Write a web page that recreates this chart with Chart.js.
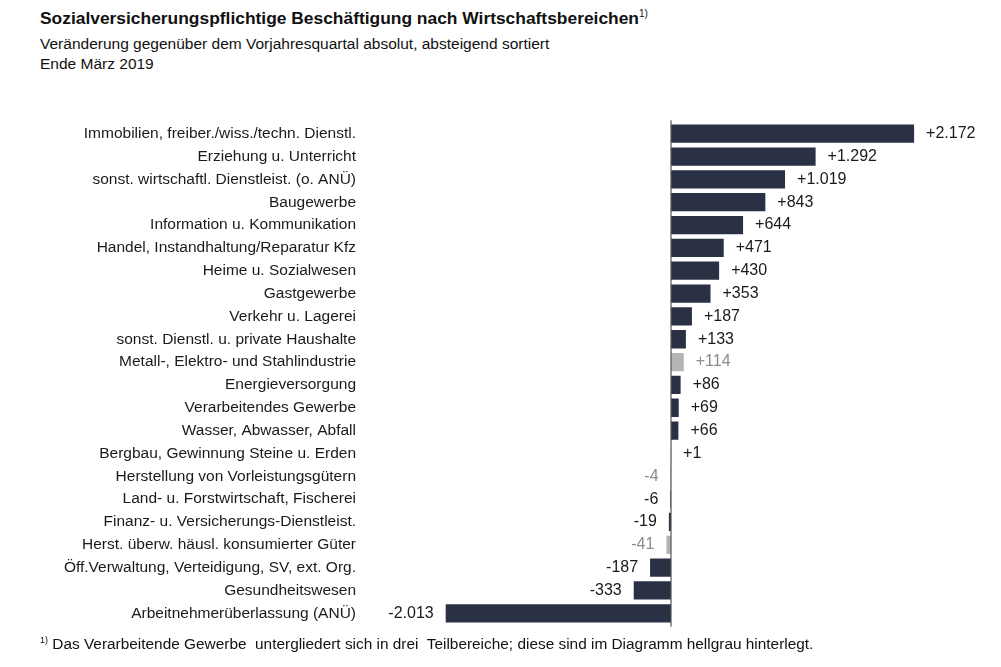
<!DOCTYPE html>
<html>
<head>
<meta charset="utf-8">
<script src="https://cdn.jsdelivr.net/npm/chart.js@4"></script>
<style>
  body { margin: 0; background: #fff; font-family: "Liberation Sans", Arial, sans-serif; color: #111; }
  #wrap { position: relative; width: 1001px; height: 667px; }
  .title { position: absolute; left: 40px; top: 8px; font-size: 17.4px; font-weight: bold; }
  .title sup { font-size: 10px; font-weight: normal; }
  .sub { position: absolute; left: 40px; font-size: 15.5px; }
  .foot { position: absolute; left: 40px; top: 635px; font-size: 15.4px; }
  .foot sup { font-size: 9px; }
  #box { position: absolute; left: 0; top: 89px; width: 1001px; height: 569px; }
</style>
</head>
<body>
<div id="wrap">
  <div class="title">Sozialversicherungspflichtige Beschäftigung nach Wirtschaftsbereichen<sup>1)</sup></div>
  <div class="sub" style="top:35px">Veränderung gegenüber dem Vorjahresquartal absolut, absteigend sortiert</div>
  <div class="sub" style="top:55px">Ende März 2019</div>
  <div id="box"><canvas id="myChart"></canvas></div>
  <div class="foot"><sup>1)</sup> Das Verarbeitende Gewerbe&nbsp; untergliedert sich in drei&nbsp; Teilbereiche; diese sind im Diagramm hellgrau hinterlegt.</div>
</div>
<script>
const categories = [
    'Immobilien, freiber./wiss./techn. Dienstl.',
    'Erziehung u. Unterricht',
    'sonst. wirtschaftl. Dienstleist. (o. ANÜ)',
    'Baugewerbe',
    'Information u. Kommunikation',
    'Handel, Instandhaltung/Reparatur Kfz',
    'Heime u. Sozialwesen',
    'Gastgewerbe',
    'Verkehr u. Lagerei',
    'sonst. Dienstl. u. private Haushalte',
    'Metall-, Elektro- und Stahlindustrie',
    'Energieversorgung',
    'Verarbeitendes Gewerbe',
    'Wasser, Abwasser, Abfall',
    'Bergbau, Gewinnung Steine u. Erden',
    'Herstellung von Vorleistungsgütern',
    'Land- u. Forstwirtschaft, Fischerei',
    'Finanz- u. Versicherungs-Dienstleist.',
    'Herst. überw. häusl. konsumierter Güter',
    'Öff.Verwaltung, Verteidigung, SV, ext. Org.',
    'Gesundheitswesen',
    'Arbeitnehmerüberlassung (ANÜ)'
];
const changes = [2172, 1292, 1019, 843, 644, 471, 430, 353, 187, 133, 114, 86, 69, 66, 1, -4, -6, -19, -41, -187, -333, -2013];
// sub-sectors of Verarbeitendes Gewerbe (light grey)
const subSector = [false, false, false, false, false, false, false, false, false, false, true, false, false, false, false, true, false, false, true, false, false, false];

const dark = '#2b3144';
const light = '#b5b5b5';

function fmt(v) {
    const s = Math.abs(v).toString().replace(/\B(?=(\d{3})+(?!\d))/g, '.');
    return (v > 0 ? '+' : '-') + s;
}

const zeroLine = {
    id: 'zeroLine',
    afterDatasetsDraw(chart) {
        const c = chart.ctx, x = chart.scales.x.getPixelForValue(0);
        c.save();
        c.strokeStyle = '#555';
        c.lineWidth = 1.2;
        c.beginPath();
        c.moveTo(x, chart.chartArea.top - 2);
        c.lineTo(x, chart.chartArea.bottom + 2);
        c.stroke();
        c.restore();
    }
};

const valueLabels = {
    id: 'valueLabels',
    afterDatasetsDraw(chart) {
        const c = chart.ctx;
        const meta = chart.getDatasetMeta(0);
        c.save();
        c.font = '16px "Liberation Sans", Arial, sans-serif';
        c.textBaseline = 'middle';
        meta.data.forEach((bar, i) => {
            const v = changes[i];
            c.fillStyle = subSector[i] ? '#8c8c8c' : '#1a1a1a';
            if (v >= 0) {
                c.textAlign = 'left';
                c.fillText(fmt(v), bar.x + 12, bar.y);
            } else {
                c.textAlign = 'right';
                c.fillText(fmt(v), bar.x - 12, bar.y);
            }
        });
        c.restore();
    }
};

const ctx = document.getElementById('myChart');
new Chart(ctx, {
    type: 'bar',
    data: {
        labels: categories,
        datasets: [{
            data: changes,
            backgroundColor: subSector.map(g => g ? light : dark),
            barPercentage: 0.8,
            categoryPercentage: 1.0
        }]
    },
    options: {
        indexAxis: 'y',
        responsive: true,
        maintainAspectRatio: false,
        animation: false,
        layout: { padding: { top: 0, bottom: 0, left: 0, right: 39 } },
        plugins: {
            legend: { display: false },
            tooltip: { enabled: false }
        },
        scales: {
            x: {
                display: false,
                min: -2600,
                max: 2600
            },
            y: {
                afterFit(scale) { scale.width = 380; },
                grid: { display: false, drawTicks: false },
                border: { display: false },
                ticks: {
                    padding: 24,
                    color: '#1a1a1a',
                    font: { family: '"Liberation Sans", Arial, sans-serif', size: 15.5 }
                }
            }
        }
    },
    plugins: [zeroLine, valueLabels]
});
</script>
</body>
</html>
